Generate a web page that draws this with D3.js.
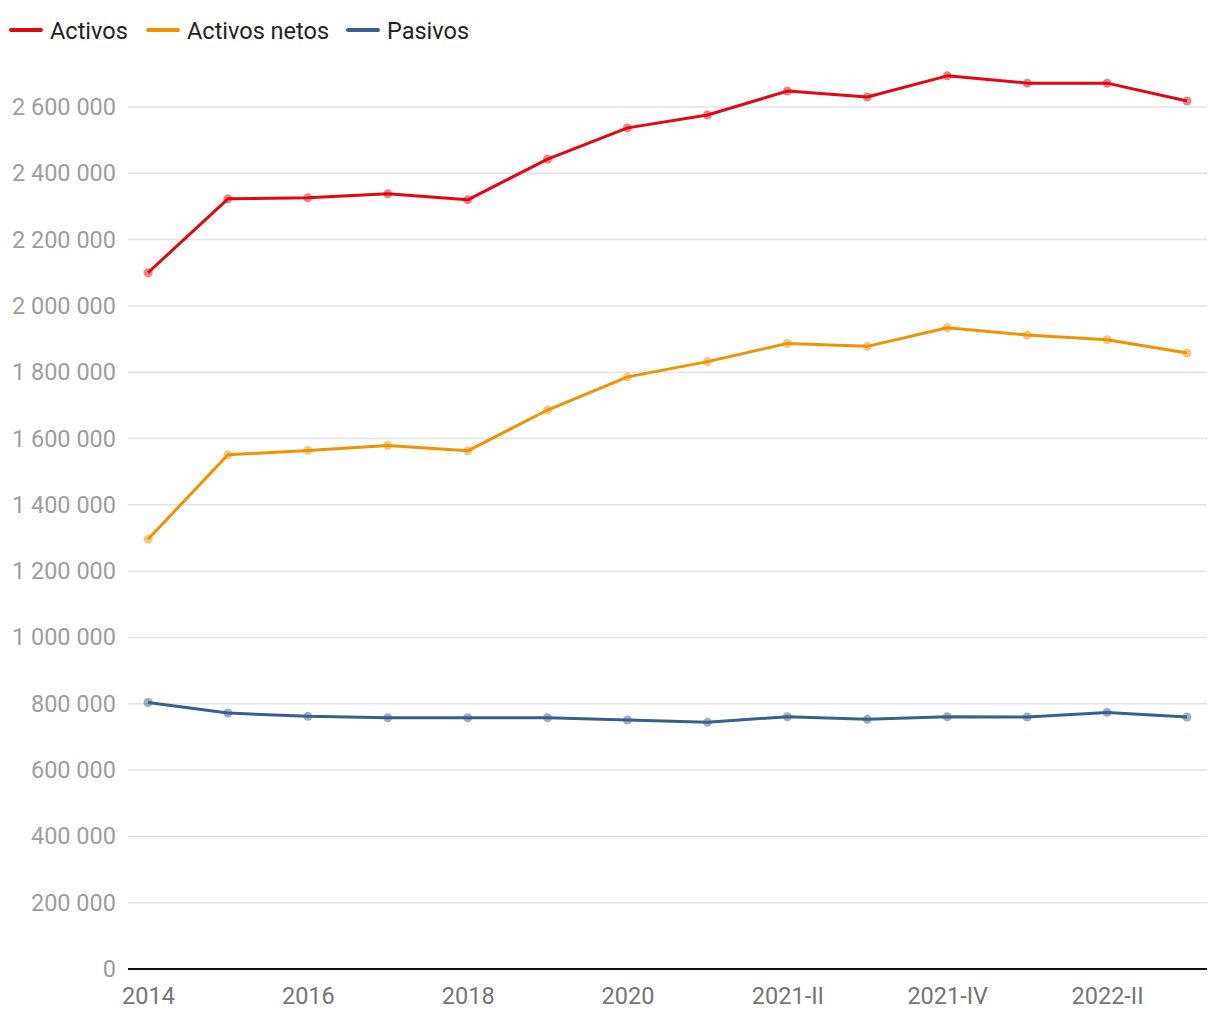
<!DOCTYPE html>
<html><head><meta charset="utf-8">
<script src="https://cdn.jsdelivr.net/npm/d3@7"></script>
<style>body{margin:0;background:#fff;font-family:Roboto,"Noto Sans",sans-serif;}</style>
</head><body><svg id="c" width="1220" height="1020"></svg>
<script>
const categories = ["2014","2015","2016","2017","2018","2019","2020","2021-I","2021-II","2021-III","2021-IV","2022-I","2022-II","2022-III"];
const tickLabels = ["2014","2016","2018","2020","2021-II","2021-IV","2022-II"];
const activos = [2100000,2323000,2326000,2338000,2320000,2443000,2537000,2576000,2648000,2630000,2694000,2672000,2672000,2618000];
const activosNetos = [1296000,1551000,1564000,1579000,1563000,1686000,1786000,1832000,1887000,1878000,1934000,1912000,1898000,1858000];
const pasivos = [804000,772000,762000,758000,758000,758000,751000,744000,761000,753000,761000,760000,774000,760000];
const yTicks = [0,200000,400000,600000,800000,1000000,1200000,1400000,1600000,1800000,2000000,2200000,2400000,2600000];
const seriesNames = ["Activos","Activos netos","Pasivos"];
const seriesColors = ["#e30613","#f39200","#3b5f8a"];
const seriesData = [activos, activosNetos, pasivos];

const FS = 23.5;
const svg = d3.select("#c");
const x = d3.scalePoint().domain(categories).range([148,1187]);
const y = d3.scaleLinear().domain([0,2600000]).range([969,107]);
const fmt = v => d3.format(",")(v).replace(/,/g," ");

// grid
svg.append("g").selectAll("line").data(yTicks.filter(d=>d>0)).join("line")
  .attr("x1",128).attr("x2",1207).attr("y1",d=>y(d)).attr("y2",d=>y(d))
  .attr("stroke","#e3e3e3").attr("stroke-width",1.5);

// y labels
const yAxis = d3.axisLeft(y).tickValues(yTicks).tickFormat(fmt).tickSize(0).tickPadding(0);
const ya = svg.append("g").attr("transform","translate(116,0)").call(yAxis);
ya.select(".domain").remove();
ya.selectAll("text").attr("fill","#9e9e9e").attr("font-size",FS).attr("font-family","Roboto");

// x axis
const xAxis = d3.axisBottom(x).tickValues(tickLabels).tickSize(0);
const xa = svg.append("g").attr("transform","translate(0,969)").call(xAxis);
xa.select(".domain").remove();
xa.selectAll("text").attr("y",35).attr("dy",0).attr("fill","#757575").attr("font-size",FS).attr("font-family","Roboto");
svg.append("line").attr("x1",128).attr("x2",1207).attr("y1",y(0)).attr("y2",y(0))
  .attr("stroke","#111").attr("stroke-width",2);

// series
const line = d3.line().x((d,i)=>x(categories[i])).y(d=>y(d));
seriesData.forEach((data,k)=>{
  const g = svg.append("g");
  g.selectAll("circle").data(data).join("circle")
    .attr("cx",(d,i)=>x(categories[i])).attr("cy",d=>y(d)).attr("r",4.5)
    .attr("fill",seriesColors[k]).attr("opacity",0.5);
  g.append("path").datum(data).attr("d",line).attr("fill","none")
    .attr("stroke",seriesColors[k]).attr("stroke-width",3).attr("stroke-linejoin","round");
});

// legend
const legX = [10,147,347];
seriesNames.forEach((n,k)=>{
  const g = svg.append("g").attr("transform",`translate(${legX[k]},30)`);
  g.append("line").attr("x1",1).attr("x2",31).attr("stroke",seriesColors[k]).attr("stroke-width",4).attr("stroke-linecap","round");
  g.append("text").attr("x",40).attr("y",9).text(n).attr("font-size",FS).attr("fill","#222").attr("font-family","Roboto");
});
</script></body></html>
